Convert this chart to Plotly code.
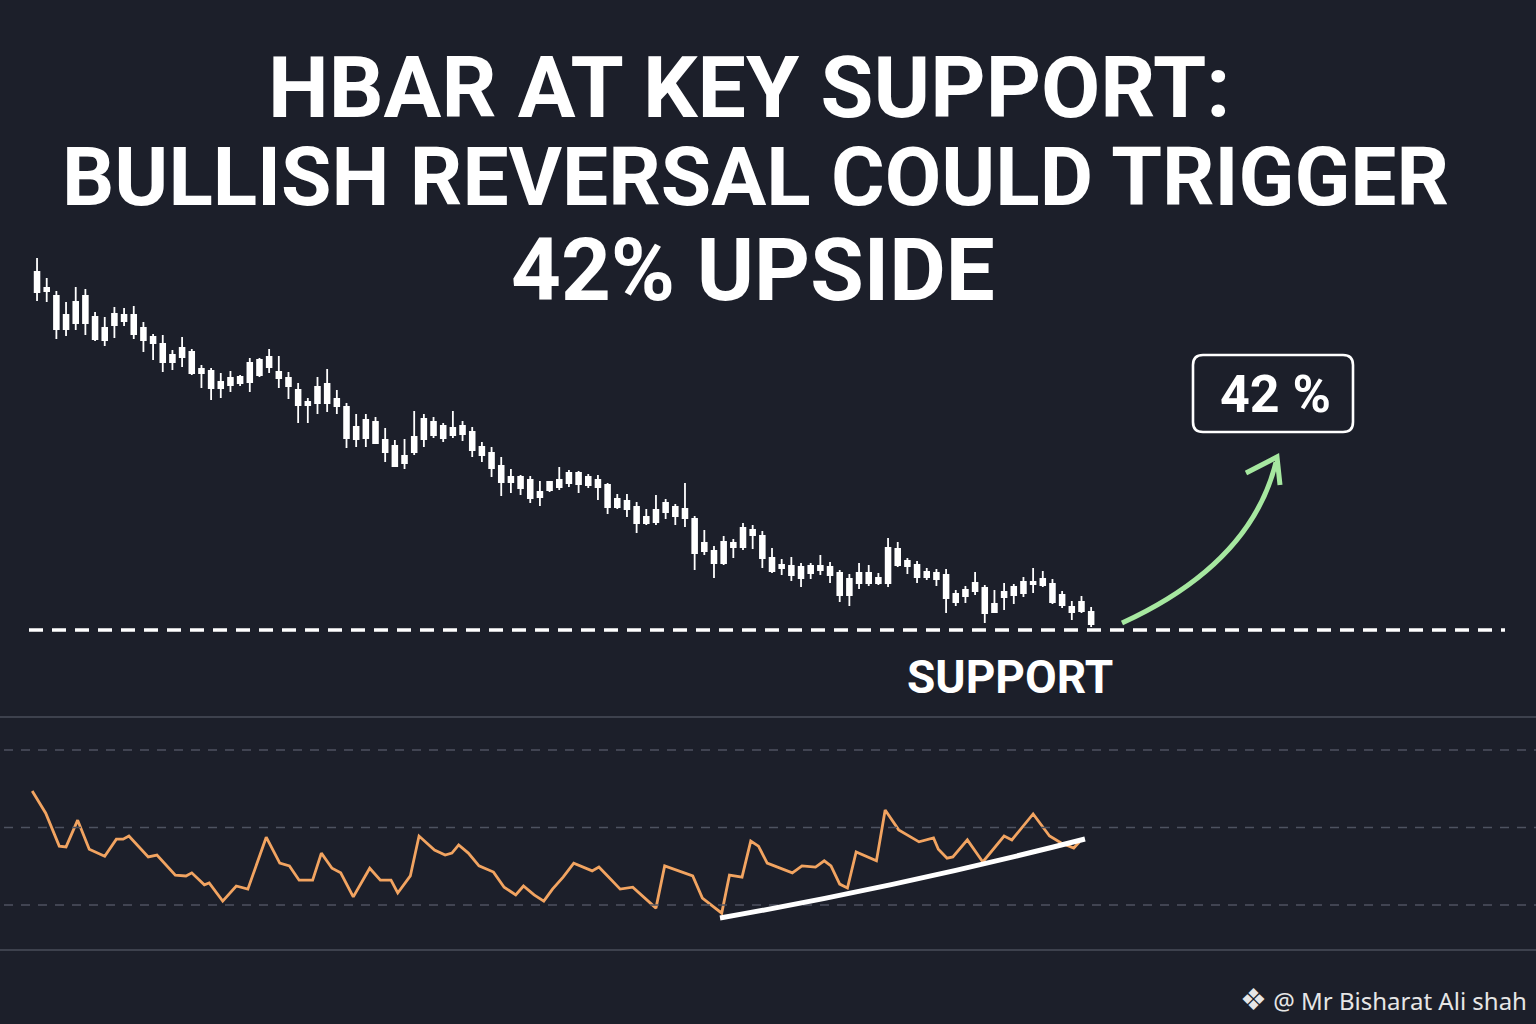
import plotly.graph_objects as go

# ---------------- data ----------------
# candle index 0..109, price in USD
high = [0.371,0.361,0.3545,0.349,0.3565,0.3555,0.344,0.3415,0.3465,0.346,
        0.347,0.339,0.333,0.3325,0.325,0.3315,0.3255,0.3175,0.316,0.3135,
        0.3145,0.3125,0.321,0.321,0.3255,0.322,0.314,0.3085,0.301,0.3115,
        0.3155,0.305,0.2985,0.293,0.293,0.2915,0.286,0.280,0.2805,0.2945,
        0.293,0.2915,0.2885,0.2945,0.2895,0.2865,0.279,0.2765,0.2715,0.2655,
        0.2625,0.262,0.2595,0.2595,0.2665,0.265,0.2645,0.263,0.2625,0.2585,
        0.253,0.253,0.249,0.2455,0.2525,0.2505,0.248,0.2585,0.242,0.235,
        0.227,0.232,0.2305,0.2385,0.2375,0.2345,0.226,0.2205,0.2215,0.2185,
        0.2185,0.2225,0.219,0.215,0.213,0.2185,0.2175,0.2135,0.231,0.229,
        0.221,0.2195,0.216,0.2155,0.2155,0.205,0.207,0.214,0.2075,0.205,
        0.2085,0.208,0.2115,0.216,0.2145,0.2105,0.2045,0.1995,0.202,0.1965]
low = [0.3495,0.349,0.3305,0.332,0.335,0.3325,0.3295,0.327,0.331,0.337,
       0.3305,0.324,0.320,0.314,0.315,0.3165,0.3125,0.306,0.300,0.301,
       0.304,0.307,0.304,0.3115,0.3135,0.306,0.3005,0.2885,0.2885,0.293,
       0.294,0.293,0.276,0.2765,0.2765,0.278,0.269,0.2665,0.2655,0.2725,
       0.2765,0.281,0.279,0.281,0.2795,0.2715,0.269,0.2615,0.252,0.2535,
       0.2525,0.2485,0.247,0.254,0.255,0.2565,0.2535,0.256,0.250,0.243,
       0.2455,0.2415,0.2335,0.2375,0.2375,0.2405,0.2375,0.2365,0.215,0.2225,
       0.211,0.2175,0.221,0.225,0.2255,0.216,0.2135,0.2125,0.2095,0.2065,
       0.2105,0.2125,0.2085,0.199,0.197,0.2055,0.207,0.2075,0.2065,0.2165,
       0.213,0.2085,0.210,0.207,0.1935,0.197,0.1985,0.2025,0.1885,0.1935,
       0.195,0.198,0.2015,0.2035,0.2065,0.198,0.196,0.190,0.1935,0.1865]
open_ = [0.364,0.356,0.352,0.3425,0.349,0.352,0.3415,0.336,0.343,0.3425,
         0.3425,0.336,0.3315,0.328,0.3225,0.326,0.324,0.3155,0.3145,0.309,
         0.311,0.3115,0.3185,0.320,0.3215,0.314,0.311,0.305,0.299,0.3065,
         0.308,0.3005,0.2965,0.2865,0.290,0.289,0.280,0.277,0.272,0.2815,
         0.2905,0.289,0.287,0.286,0.287,0.284,0.2765,0.2735,0.267,0.2615,
         0.2615,0.260,0.254,0.259,0.260,0.2635,0.2635,0.2615,0.260,0.2575,
         0.2505,0.2495,0.2465,0.2415,0.245,0.2485,0.2465,0.2455,0.2405,0.2285,
         0.2245,0.229,0.2285,0.236,0.235,0.232,0.221,0.2175,0.217,0.2165,
         0.217,0.217,0.2165,0.2135,0.2105,0.2135,0.2135,0.211,0.226,0.2255,
         0.2195,0.2175,0.214,0.2135,0.2125,0.203,0.205,0.2085,0.206,0.198,
         0.204,0.2065,0.209,0.209,0.2105,0.208,0.2025,0.1965,0.199,0.194]
close = [0.354,0.3545,0.3355,0.3355,0.3385,0.3385,0.3305,0.330,0.3375,0.3395,
         0.333,0.330,0.3285,0.319,0.319,0.3215,0.3135,0.3135,0.306,0.306,
         0.3075,0.3085,0.309,0.3125,0.3165,0.311,0.307,0.2975,0.2975,0.2985,
         0.2985,0.297,0.281,0.2805,0.281,0.2785,0.274,0.267,0.2685,0.274,
         0.2805,0.2825,0.281,0.2825,0.283,0.275,0.2725,0.266,0.259,0.259,
         0.256,0.251,0.2515,0.255,0.2565,0.2585,0.258,0.2575,0.2565,0.2465,
         0.2465,0.2455,0.2385,0.2385,0.239,0.244,0.242,0.241,0.2235,0.2245,
         0.2185,0.2185,0.2265,0.2265,0.2325,0.221,0.2145,0.216,0.2125,0.211,
         0.2135,0.215,0.2125,0.2025,0.2025,0.2085,0.2085,0.2085,0.2085,0.2175,
         0.217,0.2115,0.2115,0.2105,0.201,0.199,0.202,0.2045,0.1935,0.194,
         0.2015,0.2025,0.2035,0.208,0.2075,0.199,0.1975,0.194,0.1945,0.188]
bars = list(range(len(high)))

support_level = 0.185

# RSI panel (bar position, RSI value)
rsi_x = [-0.5,0.9,2.3,3.0,4.2,5.4,7.0,8.2,8.9,9.5,11.5,12.4,14.3,15.4,16.0,17.3,17.8,19.2,
         20.6,21.8,23.7,25.1,26.1,27.1,28.5,29.4,30.5,31.4,32.7,34.4,35.5,36.6,37.3,38.6,
         39.5,41.1,42.2,42.9,43.6,44.6,45.7,47.2,48.3,49.5,50.3,51.4,52.4,53.3,54.4,55.5,
         57.4,58.1,59.0,60.3,61.6,64.0,64.9,67.8,68.8,70.8,71.6,72.9,73.8,74.6,75.5,78.1,
         79.1,80.5,81.4,82.1,83.0,83.8,84.7,86.8,87.7,89.1,91.2,92.7,93.2,94.1,94.7,96.2,
         97.8,100.0,100.8,103.0,104.7,105.9,107.2,107.8]
rsi = [59.4,53.7,45.2,45.0,51.9,44.4,42.6,47.0,47.0,47.8,42.4,42.9,37.7,37.5,38.3,35.2,35.7,31.0,
       34.9,34.1,47.5,40.8,40.1,36.4,36.4,43.4,39.5,38.3,32.1,39.5,36.4,36.4,33.1,37.5,
       47.8,44.2,42.9,43.4,45.5,43.4,40.1,38.5,34.6,32.6,34.9,32.6,31.0,34.1,37.2,40.8,
       38.8,39.8,37.5,34.1,34.6,29.2,40.1,37.5,31.8,27.9,37.7,37.2,46.5,45.2,40.8,38.3,
       40.1,39.8,41.4,40.1,35.4,34.4,43.7,41.4,54.5,49.4,46.3,47.3,44.4,42.1,42.4,46.8,
       41.1,47.8,46.8,53.5,47.8,46.0,44.7,46.3]
rsi_levels = [30, 50, 70]

title_lines = ["HBAR AT KEY SUPPORT:", "BULLISH REVERSAL COULD TRIGGER", "42% UPSIDE"]
target_text = "42 %"
support_text = "SUPPORT"
credit_icon = "❖"
credit_text = "@ Mr Bisharat Ali shah"

# ---------------- figure ----------------
W, H = 1536, 1024
BG = "#1c1f2a"

def px(x):
    return x / W

def py(y):
    return 1 - y / H

fig = go.Figure()

fig.add_trace(go.Candlestick(
    x=bars, open=open_, high=high, low=low, close=close,
    increasing=dict(line=dict(color="#ffffff", width=1.8), fillcolor="#ffffff"),
    decreasing=dict(line=dict(color="#ffffff", width=1.8), fillcolor="#ffffff"),
    whiskerwidth=0, showlegend=False, hoverinfo="skip",
    xaxis="x", yaxis="y",
))

fig.add_trace(go.Scatter(
    x=rsi_x, y=rsi, mode="lines",
    line=dict(color="#f2a461", width=2.8),
    showlegend=False, hoverinfo="skip",
    xaxis="x", yaxis="y2",
))

shapes = []
# support line
shapes.append(dict(type="line", xref="paper", yref="y",
                   x0=px(29), x1=px(1505), y0=support_level, y1=support_level,
                   line=dict(color="#ffffff", width=3.6, dash="14px,9px")))
# RSI panel borders
for yy in (717, 950):
    shapes.append(dict(type="line", xref="paper", yref="paper",
                       x0=0, x1=1, y0=py(yy), y1=py(yy),
                       line=dict(color="#3d414d", width=2)))
# RSI dashed levels
for lv in rsi_levels:
    shapes.append(dict(type="line", xref="paper", yref="y2",
                       x0=px(4), x1=1, y0=lv, y1=lv,
                       line=dict(color="#4d5260", width=1.5, dash="9px,8px")))
# trend curve under RSI
shapes.append(dict(type="path", xref="paper", yref="paper",
                   path=f"M {px(720)},{py(918)} Q {px(902)},{py(886)} {px(1085)},{py(839)}",
                   line=dict(color="#ffffff", width=5)))
# green arrow
shapes.append(dict(type="path", xref="paper", yref="paper",
                   path=f"M {px(1122)},{py(623)} Q {px(1251)},{py(564)} {px(1276)},{py(462)}",
                   line=dict(color="#a6e8a0", width=5)))
shapes.append(dict(type="path", xref="paper", yref="paper",
                   path=f"M {px(1246)},{py(473)} L {px(1277)},{py(457)} L {px(1280)},{py(485)}",
                   line=dict(color="#a6e8a0", width=5)))
# rounded box for target
x0, y0, x1, y1, r = 1193, 355, 1353, 432, 10
box = (f"M {px(x0+r)},{py(y0)} L {px(x1-r)},{py(y0)} Q {px(x1)},{py(y0)} {px(x1)},{py(y0+r)} "
       f"L {px(x1)},{py(y1-r)} Q {px(x1)},{py(y1)} {px(x1-r)},{py(y1)} "
       f"L {px(x0+r)},{py(y1)} Q {px(x0)},{py(y1)} {px(x0)},{py(y1-r)} "
       f"L {px(x0)},{py(y0+r)} Q {px(x0)},{py(y0)} {px(x0+r)},{py(y0)} Z")
shapes.append(dict(type="path", xref="paper", yref="paper", path=box,
                   line=dict(color="#ffffff", width=2.6), fillcolor=BG))

annotations = []
for txt, cx, cy, fs in zip(title_lines, (749, 755, 753), (87, 177, 270), (86, 82, 87)):
    annotations.append(dict(text=txt, x=px(cx), y=py(cy), xref="paper", yref="paper",
                            xanchor="center", yanchor="middle", showarrow=False,
                            font=dict(family="Roboto, Inter, sans-serif", size=fs,
                                      color="#ffffff", weight=700)))
annotations.append(dict(text=target_text, x=px(1275), y=py(394), xref="paper", yref="paper",
                        xanchor="center", yanchor="middle", showarrow=False,
                        font=dict(family="Roboto, Inter, sans-serif", size=52, color="#ffffff", weight=700)))
annotations.append(dict(text=support_text, x=px(1010), y=py(677), xref="paper", yref="paper",
                        xanchor="center", yanchor="middle", showarrow=False,
                        font=dict(family="Roboto, Inter, sans-serif", size=46, color="#ffffff", weight=700)))
annotations.append(dict(text=f"<span style='font-size:30px'>{credit_icon}</span> {credit_text}",
                        x=px(1529), y=py(998), xref="paper", yref="paper",
                        xanchor="right", yanchor="middle", showarrow=False,
                        font=dict(family="Noto Sans, sans-serif", size=24, color="#e6e6e6")))

fig.update_layout(
    width=W, height=H,
    margin=dict(l=0, r=0, t=0, b=0),
    paper_bgcolor=BG, plot_bgcolor=BG,
    showlegend=False,
    xaxis=dict(domain=[0, 1], range=[-3.83, 155.0], visible=False,
               rangeslider=dict(visible=False), fixedrange=True),
    yaxis=dict(domain=[0, 1], range=[-0.012, 0.5], visible=False, fixedrange=True),
    yaxis2=dict(domain=[1 - 950 / H, 1 - 717 / H], range=[18.39, 78.52], visible=False,
                anchor="x", fixedrange=True),
    shapes=shapes,
    annotations=annotations,
)

fig.write_html("out.html", config={"displayModeBar": False},
               post_script="document.body.style.margin='0';document.body.style.background='#1c1f2a';")
